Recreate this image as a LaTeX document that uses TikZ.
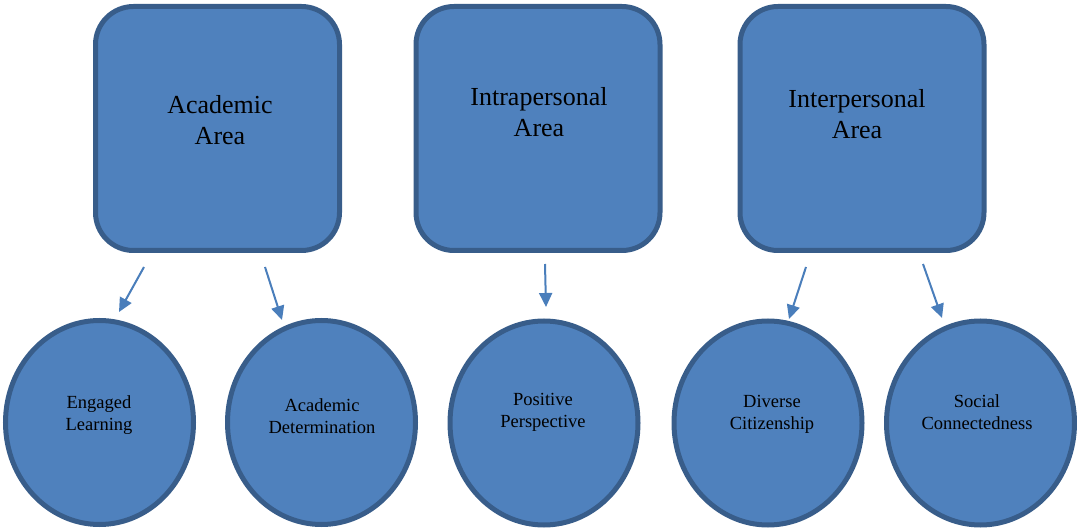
\documentclass[tikz,border=0pt]{standalone}
\usepackage{fontspec}
\setmainfont{Liberation Serif}
\usetikzlibrary{shapes.geometric,arrows.meta}
\definecolor{boxfill}{HTML}{4F81BD}
\definecolor{boxline}{HTML}{385D8A}
\definecolor{arrowc}{HTML}{4A7EBB}
\tikzset{
  areabox/.style={draw=boxline, fill=boxfill, line width=5pt, rounded corners=38pt,
    minimum width=244pt, minimum height=244pt, inner sep=0pt},
  subcircle/.style={ellipse, draw=boxline, fill=boxfill, line width=5pt,
    minimum width=188pt, minimum height=204pt, inner sep=0pt},
  bigtext/.style={align=center, inner sep=0pt, font=\fontsize{26}{31}\selectfont},
  smalltext/.style={align=center, inner sep=0pt, font=\fontsize{18.5}{22}\selectfont},
  link/.style={draw=arrowc, line width=2pt, -{Triangle[length=14pt,width=13pt]}}
}
\begin{document}
\begin{tikzpicture}[x=1pt,y=-1pt]
\useasboundingbox (0,0) rectangle (1077,529);
% area boxes
\node[areabox] (acad) at (217.5,128.5) {};
\node[areabox] (intra) at (538,128.5) {};
\node[areabox] (inter) at (862,128.5) {};
\node[bigtext] (acadT) at (220,119.7) {Academic\\Area};
\node[bigtext] (intraT) at (539,112) {Intrapersonal\\Area};
\node[bigtext] (interT) at (857,113.7) {Interpersonal\\Area};
% circles
\node[subcircle] (eng) at (99.5,422.5) {};
\node[subcircle] (det) at (321.5,422.5) {};
\node[subcircle] (pos) at (544,423) {};
\node[subcircle] (div) at (768,423) {};
\node[subcircle] (soc) at (980.5,423) {};
\node[smalltext] (engT) at (99,414.7) {Engaged\\Learning};
\node[smalltext] (detT) at (322,416.2) {Academic\\Determination};
\node[smalltext] (posT) at (543,412.2) {Positive\\Perspective};
\node[smalltext] (divT) at (772,414.2) {Diverse\\Citizenship};
\node[smalltext] (socT) at (977,412.2) {Social\\Connectedness};
% arrow endpoints
\coordinate (a1s) at (144,267); \coordinate (a1e) at (119,312);
\coordinate (a2s) at (265,267); \coordinate (a2e) at (282,320);
\coordinate (a3s) at (545,264); \coordinate (a3e) at (546,307);
\coordinate (a4s) at (806,267); \coordinate (a4e) at (789,319);
\coordinate (a5s) at (923,264); \coordinate (a5e) at (942,318);
\draw[link] (a1s) -- (a1e);
\draw[link] (a2s) -- (a2e);
\draw[link] (a3s) -- (a3e);
\draw[link] (a4s) -- (a4e);
\draw[link] (a5s) -- (a5e);
\end{tikzpicture}
\end{document}
